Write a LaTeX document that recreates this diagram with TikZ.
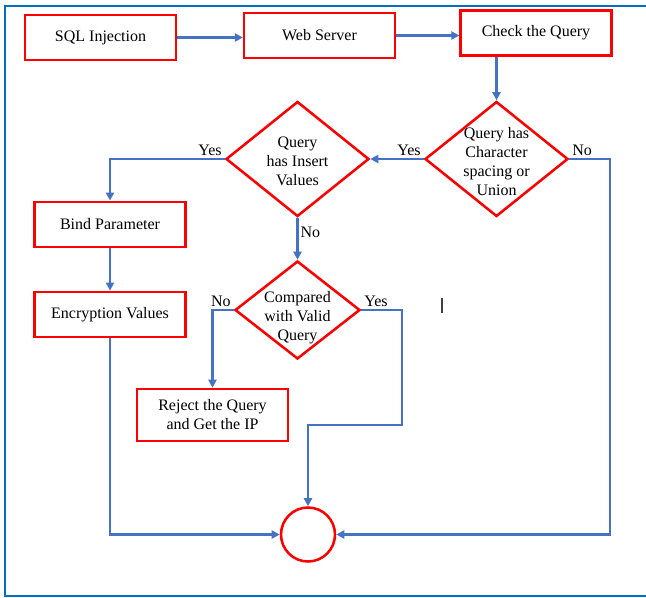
\documentclass[tikz,border=0pt]{standalone}
\usepackage{fontspec}
\setmainfont{Liberation Serif}
\usepackage{xcolor}
\usetikzlibrary{shapes.geometric,arrows.meta,calc}
\definecolor{linkblue}{RGB}{68,114,196}
\definecolor{frameblue}{RGB}{0,112,192}

\begin{document}
\begin{tikzpicture}[x=0.75pt,y=-0.75pt,
    font=\fontsize{12}{14.25}\selectfont,
    blk/.style={draw=red,line width=1.9pt,rectangle,align=center,minimum width=113pt,minimum height=34pt,inner sep=0pt},
    dec/.style={draw=red,line width=1.9pt,diamond,inner sep=0pt},
    lnk/.style={draw=linkblue,line width=1.7pt},
    arr/.style={lnk,-{Triangle[length=6pt,width=6pt]}},
    lbl/.style={inner sep=1.5pt},
    txt/.style={align=center,inner sep=0pt}]
	\useasboundingbox (0,0) rectangle (646,597);
	\draw[frameblue,line width=1.6pt] (646,6) -- (5,6) -- (5,596) -- (646,596);
	% top row
	\node[blk] (sqlinj) at (100.5,37.5) {SQL Injection};
	\node[blk] (websrv) at (319.5,35.5) {Web Server};
	\node[blk] (chkq) at (536,33) {Check the Query};
	% decisions
	\node[dec,minimum width=107.25pt,minimum height=86.25pt] (dunion) at (496.5,159) {};
	\node[txt] (tunion) at (496.5,162) {Query has\\Character\\spacing or\\Union};
	\node[dec,minimum width=107.25pt,minimum height=86.25pt] (dinsert) at (297.5,159) {};
	\node[txt] (tinsert) at (297.5,161) {Query\\has Insert\\Values};
	\node[dec,minimum width=93.75pt,minimum height=73.5pt] (dvalid) at (297.5,310) {};
	\node[txt] (tvalid) at (297.5,317.5) {Compared\\with Valid\\Query};
	% left column and end
	\node[blk] (bindp) at (110,224.5) {Bind Parameter};
	\node[blk] (encv) at (110,314.5) {Encryption Values};
	\node[blk,minimum height=39pt] (rejq) at (212.5,415) {Reject the Query\\and Get the IP};
	\node[draw=red,line width=1.9pt,circle,minimum size=40.5pt,inner sep=0pt] (endc) at (308,534.5) {};
	% connectors
	\draw[arr] (sqlinj.east) -- (sqlinj.east -| websrv.west);
	\draw[arr] (websrv.east) -- (websrv.east -| chkq.west);
	\draw[arr] (chkq.south -| dunion.north) -- (dunion.north);
	\draw[arr] (dunion.west) node[lbl,above left] {Yes} -- (dinsert.east);
	\draw[arr] (dunion.east) node[lbl,above right] {No} -- ++(41,0) |- (endc.east);
	\draw[arr] (dinsert.west) node[lbl,above left] {Yes} -| (bindp.north);
	\draw[arr] (bindp.south) -- (encv.north);
	\draw[arr] (encv.south) |- (endc.west);
	\draw[arr] (dinsert.south) -- node[lbl,right,pos=0.35] {No} (dvalid.north);
	\draw[arr] (dvalid.west) node[lbl,above left] {No} -| (rejq.north);
	\draw[arr] (dvalid.east) node[lbl,above right] {Yes} -- ++(41,0) -- ++(0,115) -| (endc.north);
	\draw[black!75,line width=0.8pt] (442,298) -- (442,313);
\end{tikzpicture}
\end{document}
